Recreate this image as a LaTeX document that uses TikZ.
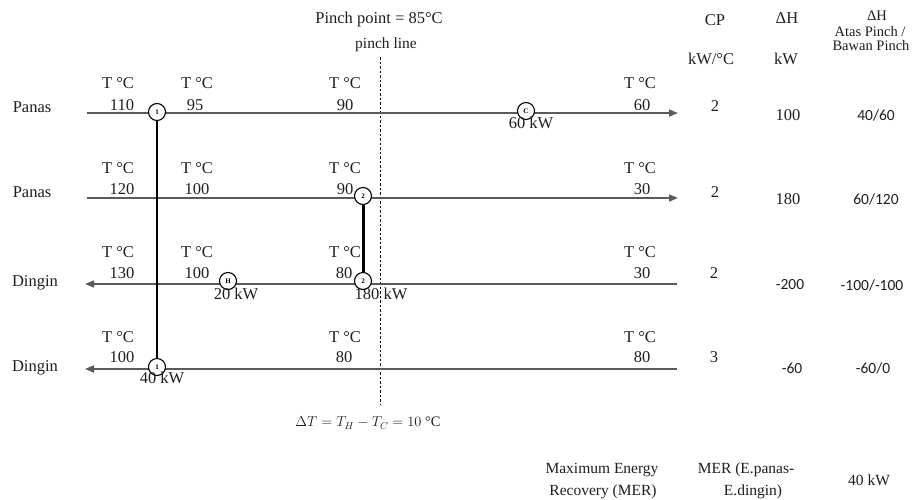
\documentclass[tikz,border=0pt]{standalone}
\usepackage{fontspec}
\setmainfont{Liberation Serif}
\newfontfamily\calib{Carlito}
\usetikzlibrary{arrows.meta}
\definecolor{streamgray}{HTML}{5A5A5A}
\definecolor{txt}{HTML}{1E1E1E}
\begin{document}
\begin{tikzpicture}[x=1pt,y=-1pt,
  lbl/.style={inner sep=0pt,text=txt,font=\fontsize{16.5}{18}\selectfont},
  cal/.style={inner sep=0pt,text=txt,font=\calib\fontsize{15.5}{17}\selectfont},
  small/.style={inner sep=0pt,text=txt,font=\fontsize{15.5}{17}\selectfont},
  hdr/.style={inner sep=0pt,text=txt,font=\fontsize{14.5}{16}\selectfont},
  eqn/.style={inner sep=0pt,text=txt,font=\fontsize{14.5}{16}\selectfont},
  stream/.style={draw=streamgray,line width=1.6pt,-{Triangle[length=9pt,width=7pt]}},
  hx/.style={draw=black,line width=1.1pt,circle,fill=white,minimum size=17pt,inner sep=0pt,font=\fontsize{7}{8}\selectfont\bfseries},
  link/.style={draw=black,line width=1.3pt},
  thicklink/.style={draw=black,line width=3pt},
  pinch/.style={draw=black,line width=0.8pt,dash pattern=on 2.5pt off 2pt}
]
\useasboundingbox (0,0) rectangle (919,499);

% stream end points
\coordinate (s1a) at (87,113);  \coordinate (s1b) at (678,113);
\coordinate (s2a) at (87,198);  \coordinate (s2b) at (678,198);
\coordinate (s3a) at (677,284); \coordinate (s3b) at (85,284);
\coordinate (s4a) at (677,369); \coordinate (s4b) at (85,369);
\coordinate (pt) at (380,57);   \coordinate (pb) at (380,405);

% pinch line
\draw[pinch] (pt) -- (pb);

% streams
\draw[stream] (s1a) -- (s1b);
\draw[stream] (s2a) -- (s2b);
\draw[stream] (s3a) -- (s3b);
\draw[stream] (s4a) -- (s4b);

% exchangers
\node[hx] (e1a) at (157,112) {1};
\node[hx] (e1b) at (157,367) {1};
\node[hx] (e2a) at (363,196) {2};
\node[hx] (e2b) at (363,281) {2};
\node[hx] (cc)  at (526,111) {C};
\node[hx] (hh)  at (228,281) {H};
\draw[link] (e1a) -- (e1b);
\draw[thicklink] (e2a) -- (e2b);

% duty labels
\node[lbl] (q1) at (531,123) {60 kW};
\node[lbl] (q2) at (236,294) {20 kW};
\node[lbl] (q3) at (381,294) {180 kW};
\node[lbl] (q4) at (162,378) {40 kW};

% stream names
\node[lbl] (n1) at (32,107) {Panas};
\node[lbl] (n2) at (32,192) {Panas};
\node[lbl] (n3) at (35,283) {Dingin};
\node[lbl] (n4) at (35,368) {Dingin};

% temperatures row 1
\node[lbl] (t1a) at (118,83) {T °C};  \node[lbl] (v1a) at (122,105) {110};
\node[lbl] (t1b) at (197,83) {T °C};  \node[lbl] (v1b) at (195,105) {95};
\node[lbl] (t1c) at (345,83) {T °C};  \node[lbl] (v1c) at (345,105) {90};
\node[lbl] (t1d) at (640,83) {T °C};  \node[lbl] (v1d) at (642,105) {60};
% row 2
\node[lbl] (t2a) at (118,168) {T °C}; \node[lbl] (v2a) at (122,189) {120};
\node[lbl] (t2b) at (197,168) {T °C}; \node[lbl] (v2b) at (197,189) {100};
\node[lbl] (t2c) at (345,168) {T °C}; \node[lbl] (v2c) at (345,189) {90};
\node[lbl] (t2d) at (640,168) {T °C}; \node[lbl] (v2d) at (642,189) {30};
% row 3
\node[lbl] (t3a) at (118,252) {T °C}; \node[lbl] (v3a) at (122,273) {130};
\node[lbl] (t3b) at (197,252) {T °C}; \node[lbl] (v3b) at (197,273) {100};
\node[lbl] (t3c) at (345,252) {T °C}; \node[lbl] (v3c) at (344,273) {80};
\node[lbl] (t3d) at (640,252) {T °C}; \node[lbl] (v3d) at (642,273) {30};
% row 4
\node[lbl] (t4a) at (118,337) {T °C}; \node[lbl] (v4a) at (122,357) {100};
\node[lbl] (t4c) at (345,337) {T °C}; \node[lbl] (v4c) at (344,357) {80};
\node[lbl] (t4d) at (640,337) {T °C}; \node[lbl] (v4d) at (642,357) {80};

% pinch texts
\node[lbl] (pp) at (379,20) {Pinch point = 85°C};
\node[small] (pl) at (386,45) {pinch line};
\node[eqn] (dt) at (368,423) {$\Delta T = T_H - T_C = 10$ °C};

% headers
\node[lbl] (hcp) at (715,20) {CP};
\node[lbl] (hcpu) at (711,59) {kW/°C};
\node[lbl] (hdh) at (787,18) {ΔH};
\node[lbl] (hdhu) at (786,59) {kW};
\node[hdr] (hap0) at (877,16) {ΔH};
\node[hdr] (hap1) at (870,32) {Atas Pinch /};
\node[hdr] (hap2) at (871,46) {Bawan Pinch};

% values
\node[lbl] (cp1) at (715,106) {2};  \node[lbl] (dh1) at (788,115) {100}; \node[cal] (ap1) at (876,115) {40/60};
\node[lbl] (cp2) at (715,192) {2};  \node[lbl] (dh2) at (788,199) {180}; \node[cal] (ap2) at (876,199) {60/120};
\node[lbl] (cp3) at (714,273) {2};  \node[cal] (dh3) at (790,285) {-200}; \node[cal] (ap3) at (872,285) {-100/-100};
\node[lbl] (cp4) at (714,357) {3};  \node[cal] (dh4) at (792,368) {-60}; \node[cal] (ap4) at (873,368) {-60/0};

% bottom
\node[small] (mer1a) at (602,470) {Maximum Energy};
\node[small] (mer1b) at (603,492) {Recovery (MER)};
\node[small] (mer2a) at (746,470) {MER (E.panas-};
\node[small] (mer2b) at (753,492) {E.dingin)};
\node[small] (mer3) at (869,480) {40 kW};
\end{tikzpicture}
\end{document}
